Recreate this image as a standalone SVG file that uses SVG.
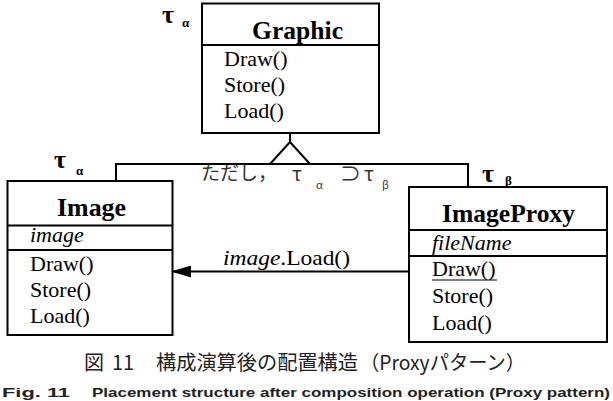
<svg xmlns="http://www.w3.org/2000/svg" width="613" height="401" viewBox="0 0 613 401">
<style>
.box{fill:#fff;stroke:#000;stroke-width:2}
.ln{fill:none;stroke:#000;stroke-width:2}
.hd{font-family:"Liberation Serif",serif;font-weight:bold;font-size:25.5px;fill:#000}
.tx{font-family:"Liberation Serif",serif;font-size:22px;fill:#000}
.it{font-style:italic}
.gk{font-family:"Liberation Serif",serif;font-weight:bold;fill:#000}
.jp{font-family:"Noto Sans CJK JP",sans-serif;fill:#333}
.cap{font-family:"Noto Sans CJK JP",sans-serif;font-size:20px;fill:#222}
.en{font-family:"Liberation Sans",sans-serif;font-weight:bold;font-size:13px;fill:#222}
</style>
<defs>
<marker id="ah" markerWidth="20" markerHeight="12" refX="20" refY="6" orient="auto" markerUnits="userSpaceOnUse">
<path d="M0,0 L20,6 L0,12 Z" fill="#000"/>
</marker>
</defs>
<rect width="613" height="401" fill="#fff"/>
<g id="connectors">
<line class="ln" x1="290" y1="133" x2="290" y2="142"/>
<polyline class="ln" points="116,181 116,164 468,164 468,187"/>
<polygon class="ln" points="290,142 270,164 310,164" style="fill:#fff"/>
<line class="ln" x1="409" y1="271.5" x2="171" y2="271.5" marker-end="url(#ah)"/>
<text class="tx" x="223" y="265" textLength="127" lengthAdjust="spacingAndGlyphs"><tspan class="it">image</tspan>.Load()</text>
</g>
<g id="graphic">
<rect class="box" x="202" y="3.5" width="177" height="129.5"/>
<line class="ln" x1="202" y1="45" x2="379" y2="45"/>
<text class="hd" x="252" y="39" textLength="91" lengthAdjust="spacingAndGlyphs">Graphic</text>
<text class="tx" x="224" y="66">Draw()</text>
<text class="tx" x="224" y="92">Store()</text>
<text class="tx" x="224" y="118">Load()</text>
<text class="gk" x="162" y="23" font-size="26">τ</text>
<text class="gk" x="182" y="27" font-size="13">α</text>
</g>
<g id="image">
<rect class="box" x="7.5" y="181" width="165" height="154"/>
<line class="ln" x1="7.5" y1="225.5" x2="172.5" y2="225.5"/>
<line class="ln" x1="7.5" y1="250" x2="172.5" y2="250"/>
<text class="hd" x="57" y="216" textLength="69" lengthAdjust="spacingAndGlyphs">Image</text>
<text class="tx it" x="30" y="242">image</text>
<text class="tx" x="30" y="271">Draw()</text>
<text class="tx" x="30" y="297">Store()</text>
<text class="tx" x="30" y="323">Load()</text>
<text class="gk" x="54" y="168" font-size="26">τ</text>
<text class="gk" x="76" y="175" font-size="13">α</text>
</g>
<g id="imageproxy">
<rect class="box" x="409" y="187" width="198" height="155"/>
<line class="ln" x1="409" y1="230" x2="607" y2="230"/>
<line class="ln" x1="409" y1="256" x2="607" y2="256"/>
<text class="hd" x="442" y="222" textLength="133" lengthAdjust="spacingAndGlyphs">ImageProxy</text>
<text class="tx it" x="432" y="250">fileName</text>
<text class="tx" x="432" y="276">Draw()</text>
<line x1="432" y1="280" x2="497" y2="280" stroke="#000" stroke-width="1.2"/>
<text class="tx" x="432" y="303">Store()</text>
<text class="tx" x="432" y="330">Load()</text>
<text class="gk" x="482" y="182" font-size="26">τ</text>
<text class="gk" x="505" y="185" font-size="13">β</text>
</g>
<g id="note">
<text class="jp" x="201" y="180" font-size="19">ただし，</text>
<text class="jp" x="292" y="181" font-size="19">τ</text>
<text class="jp" x="316" y="189" font-size="11">α</text>
<text class="jp" x="340" y="181" font-size="21">⊃</text>
<text class="jp" x="364" y="181" font-size="19">τ</text>
<text class="jp" x="382" y="189" font-size="11">β</text>
</g>
<g id="caption">
<text class="cap" x="84" y="370">図</text>
<text class="cap" x="112" y="370">11</text>
<text class="cap" x="156" y="370" textLength="202" lengthAdjust="spacingAndGlyphs">構成演算後の配置構造</text>
<text class="cap" x="360" y="370" textLength="165" lengthAdjust="spacingAndGlyphs">（Proxyパターン）</text>
<text class="en" x="2" y="397" textLength="68" lengthAdjust="spacingAndGlyphs">Fig. 11</text>
<text class="en" x="92" y="397" textLength="518" lengthAdjust="spacingAndGlyphs">Placement structure after composition operation (Proxy pattern)</text>
</g>
</svg>
